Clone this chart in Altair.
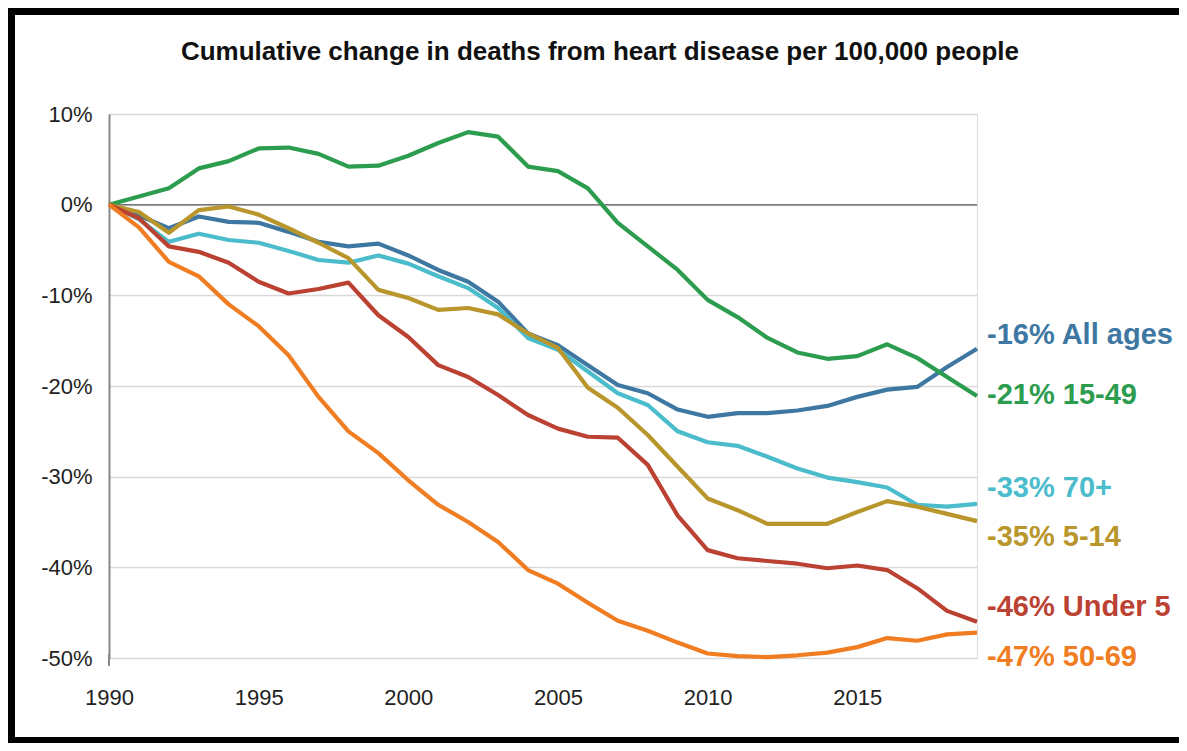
import altair as alt
import pandas as pd

years = list(range(1990, 2020))

all_ages = [0, -1.2, -2.6, -1.3, -1.9, -2.0, -3.0, -4.1, -4.6, -4.3, -5.6, -7.2, -8.5, -10.7, -14.2,
            -15.5, -17.7, -19.9, -20.8, -22.6, -23.4, -23.0, -23.0, -22.7, -22.2, -21.2, -20.4, -20.1, -17.9, -15.9]
ages_15_49 = [0, 0.9, 1.8, 4.0, 4.8, 6.2, 6.3, 5.6, 4.2, 4.3, 5.4, 6.8, 8.0, 7.5, 4.2,
              3.7, 1.8, -2.0, -4.6, -7.2, -10.5, -12.4, -14.7, -16.3, -17.0, -16.7, -15.4, -16.9, -19.0, -21.1]
ages_70 = [0, -1.6, -4.1, -3.2, -3.9, -4.2, -5.1, -6.1, -6.4, -5.6, -6.5, -7.9, -9.2, -11.4, -14.7,
           -16.0, -18.4, -20.8, -22.1, -25.0, -26.2, -26.6, -27.8, -29.1, -30.1, -30.6, -31.2, -33.1, -33.3, -33.0]
ages_5_14 = [0, -0.8, -3.1, -0.6, -0.2, -1.1, -2.6, -4.2, -5.9, -9.4, -10.3, -11.6, -11.4, -12.1, -14.2,
             -15.8, -20.2, -22.4, -25.4, -28.9, -32.4, -33.7, -35.2, -35.2, -35.2, -33.9, -32.7, -33.3, -34.1, -34.9]
under_5 = [0, -1.5, -4.6, -5.2, -6.4, -8.5, -9.8, -9.3, -8.6, -12.2, -14.6, -17.7, -19.0, -21.0, -23.2,
           -24.7, -25.6, -25.7, -28.7, -34.3, -38.1, -39.0, -39.3, -39.6, -40.1, -39.8, -40.3, -42.3, -44.8, -46.0]
ages_50_69 = [0, -2.5, -6.3, -7.9, -11.0, -13.4, -16.6, -21.2, -25.0, -27.4, -30.4, -33.1, -35.0, -37.2, -40.3,
              -41.8, -43.9, -45.9, -47.0, -48.3, -49.5, -49.8, -49.9, -49.7, -49.4, -48.8, -47.8, -48.1, -47.4, -47.2]

series_names = ["All ages", "15-49", "70+", "5-14", "Under 5", "50-69"]
series_values = [all_ages, ages_15_49, ages_70, ages_5_14, under_5, ages_50_69]
series_colors = ["#3E78A2", "#2C9C4E", "#4BBCCB", "#B8962B", "#BB4233", "#F07D22"]
end_labels = ["-16% All ages", "-21% 15-49", "-33% 70+", "-35% 5-14", "-46% Under 5", "-47% 50-69"]
label_anchor = [-14.4, -21.0, -31.2, -36.7, -44.4, -49.9]

x_ticks = [1990, 1995, 2000, 2005, 2010, 2015]
y_ticks = [-50, -40, -30, -20, -10, 0, 10]
title_text = "Cumulative change in deaths from heart disease per 100,000 people"

rows = []
for name, vals in zip(series_names, series_values):
    for yr, v in zip(years, vals):
        rows.append({"year": yr, "value": v, "series": name})
df = pd.DataFrame(rows)

lab_df = pd.DataFrame({"series": series_names, "label": end_labels,
                       "year": [years[-1]] * len(series_names), "value": label_anchor})

FONT = "Liberation Sans"

x_scale = alt.Scale(domain=[1990, 2019], nice=False, zero=False)
y_scale = alt.Scale(domain=[-50, 10], nice=False)
color_scale = alt.Scale(domain=series_names, range=series_colors)

lines = alt.Chart(df).mark_line(strokeWidth=4.2, strokeJoin="round").encode(
    x=alt.X("year:Q", scale=x_scale,
            axis=alt.Axis(values=x_ticks, format="d", title=None, grid=False, domain=False,
                          ticks=False, labelFontSize=22, labelFont=FONT, labelColor="#222",
                          labelPadding=29, labelFlush=False)),
    y=alt.Y("value:Q", scale=y_scale,
            axis=alt.Axis(values=y_ticks, labelExpr="datum.value + '%'", title=None,
                          grid=True, gridColor="#d9d9d9", gridWidth=1.5, domain=True,
                          domainColor="#888", domainWidth=2, ticks=False,
                          labelFontSize=22, labelFont=FONT, labelColor="#222", labelPadding=17)),
    color=alt.Color("series:N", scale=color_scale, legend=None),
    order=alt.Order("year:Q"),
)

zero = alt.Chart(pd.DataFrame({"value": [0]})).mark_rule(color="#777", strokeWidth=1.5).encode(
    y=alt.Y("value:Q", scale=y_scale)
)

axis_stub = alt.Chart(pd.DataFrame({"a": [0]})).mark_rule(color="#888", strokeWidth=2).encode(
    x=alt.value(0), y=alt.value(540), y2=alt.value(552))

labels = alt.Chart(lab_df).mark_text(align="left", baseline="middle", dx=10, fontSize=29,
                                     fontWeight="bold", font=FONT).encode(
    x=alt.X("year:Q", scale=x_scale),
    y=alt.Y("value:Q", scale=y_scale),
    text="label:N",
    color=alt.Color("series:N", scale=color_scale, legend=None),
)

title = alt.Chart(pd.DataFrame({"t": [title_text]})).mark_text(
    align="center", baseline="middle", fontSize=26, fontWeight="bold", font=FONT, color="#111"
).encode(text="t:N", x=alt.value(491), y=alt.value(-62))

one = pd.DataFrame({"a": [0]})
top_bar = alt.Chart(one).mark_rect(color="black").encode(
    x=alt.value(-101), x2=alt.value(1070), y=alt.value(-106), y2=alt.value(-99))
left_bar = alt.Chart(one).mark_rect(color="black").encode(
    x=alt.value(-101), x2=alt.value(-94), y=alt.value(-106), y2=alt.value(640))
bottom_bar = alt.Chart(one).mark_rect(color="black").encode(
    x=alt.value(-101), x2=alt.value(1070), y=alt.value(623), y2=alt.value(640))

chart = alt.layer(zero, axis_stub, lines, labels, title, top_bar, left_bar, bottom_bar).properties(
    width=868, height=544,
    autosize=alt.AutoSizeParams(type="none"),
    padding={"left": 101, "top": 106, "right": 202, "bottom": 85},
).configure_view(stroke=None).configure(background="white")

chart.save("out.html", embed_options={"renderer": "svg", "actions": False})
